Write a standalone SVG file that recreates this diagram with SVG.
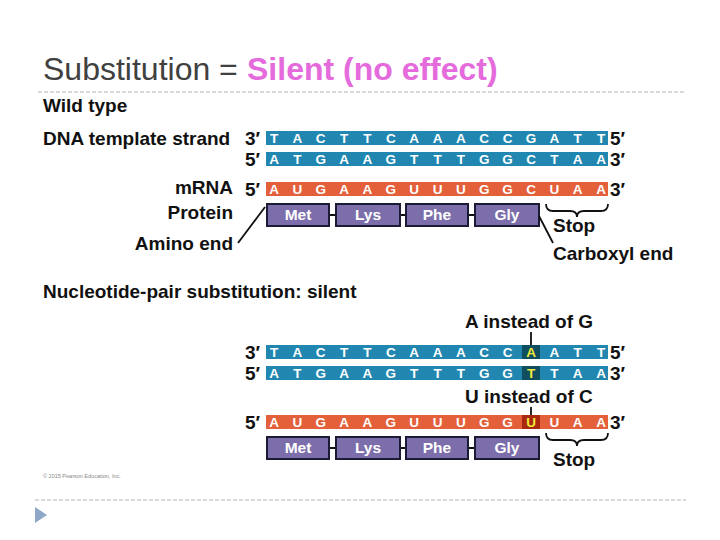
<svg xmlns="http://www.w3.org/2000/svg" width="720" height="540" viewBox="0 0 720 540">
<style>
  .lbl{font-family:"Liberation Sans",Arial,sans-serif;font-weight:bold;font-size:19px;fill:#111}
  .end{text-anchor:end}
  .base{font-family:"Liberation Sans",Arial,sans-serif;font-weight:bold;font-size:13.5px;fill:#fff;text-anchor:middle}
  .hi{fill:#f2ea3a}
  .aa{font-family:"Liberation Sans",Arial,sans-serif;font-weight:bold;font-size:15.5px;fill:#fff;text-anchor:middle}
  .dna{fill:#2187b0}
  .rna{fill:#e4603a}
  .box{fill:#7c6eaa;stroke:#1b1b35;stroke-width:2}
  .ln{stroke:#111;stroke-width:1.8;fill:none}
  .dash{stroke:#b4b4b4;stroke-width:1;stroke-dasharray:4 2;fill:none}
</style>
<rect width="720" height="540" fill="#fff"/>

<g id="title">
  <text x="43" y="80" font-family="'Liberation Sans',Arial,sans-serif" font-size="32" fill="#404040">Substitution = </text>
  <text x="247" y="80" font-family="'Liberation Sans',Arial,sans-serif" font-size="32" font-weight="bold" fill="#e56bdd">Silent (no effect)</text>
</g>
<line class="dash" x1="38" y1="92" x2="686" y2="92"/>
<line class="dash" x1="35" y1="500" x2="686" y2="500"/>
<polygon points="35,507 47,515 35,523" fill="#8fa8c8"/>

<!-- Wild type -->
<g id="wild-labels">
  <text class="lbl" x="43" y="112">Wild type</text>
  <text class="lbl" x="43" y="145">DNA template strand</text>
  <text class="lbl end" x="233" y="194">mRNA</text>
  <text class="lbl end" x="233" y="219">Protein</text>
  <text class="lbl end" x="233" y="250">Amino end</text>
  <text class="lbl" x="245" y="145">3′</text>
  <text class="lbl" x="245" y="166">5′</text>
  <text class="lbl" x="245" y="196">5′</text>
  <text class="lbl" x="610" y="145">5′</text>
  <text class="lbl" x="610" y="166">3′</text>
  <text class="lbl" x="610" y="196">3′</text>
  <text class="lbl" x="553" y="232">Stop</text>
  <text class="lbl" x="553" y="260">Carboxyl end</text>
</g>

<g id="wild-template">
  <rect class="dna" x="266" y="131" width="342" height="14"/>
  <g class="base">
    <text x="274" y="143">T</text><text x="297.4" y="143">A</text><text x="320.7" y="143">C</text><text x="344.1" y="143">T</text><text x="367.4" y="143">T</text>
    <text x="390.8" y="143">C</text><text x="414.2" y="143">A</text><text x="437.5" y="143">A</text><text x="460.9" y="143">A</text><text x="484.2" y="143">C</text>
    <text x="507.6" y="143">C</text><text x="531" y="143">G</text><text x="554.3" y="143">A</text><text x="577.7" y="143">T</text><text x="601" y="143">T</text>
  </g>
</g>
<g id="wild-coding">
  <rect class="dna" x="266" y="152" width="342" height="14"/>
  <g class="base">
    <text x="274" y="164">A</text><text x="297.4" y="164">T</text><text x="320.7" y="164">G</text><text x="344.1" y="164">A</text><text x="367.4" y="164">A</text>
    <text x="390.8" y="164">G</text><text x="414.2" y="164">T</text><text x="437.5" y="164">T</text><text x="460.9" y="164">T</text><text x="484.2" y="164">G</text>
    <text x="507.6" y="164">G</text><text x="531" y="164">C</text><text x="554.3" y="164">T</text><text x="577.7" y="164">A</text><text x="601" y="164">A</text>
  </g>
</g>
<g id="wild-mrna">
  <rect class="rna" x="266" y="182" width="342" height="14"/>
  <g class="base">
    <text x="274" y="194">A</text><text x="297.4" y="194">U</text><text x="320.7" y="194">G</text><text x="344.1" y="194">A</text><text x="367.4" y="194">A</text>
    <text x="390.8" y="194">G</text><text x="414.2" y="194">U</text><text x="437.5" y="194">U</text><text x="460.9" y="194">U</text><text x="484.2" y="194">G</text>
    <text x="507.6" y="194">G</text><text x="531" y="194">C</text><text x="554.3" y="194">U</text><text x="577.7" y="194">A</text><text x="601" y="194">A</text>
  </g>
</g>
<g id="wild-protein">
  <line class="ln" x1="329" y1="215" x2="475" y2="215" stroke-width="2.5"/>
  <rect class="box" x="267" y="204" width="62" height="22"/>
  <rect class="box" x="336" y="204" width="64" height="22"/>
  <rect class="box" x="406" y="204" width="62" height="22"/>
  <rect class="box" x="475" y="204" width="64" height="22"/>
  <text class="aa" x="298" y="220">Met</text>
  <text class="aa" x="368" y="220">Lys</text>
  <text class="aa" x="437" y="220">Phe</text>
  <text class="aa" x="507" y="220">Gly</text>
</g>
<g id="wild-connectors">
  <path class="ln" d="M546,204 q0,7 7,7 h17 q7,0 7,6 q0,-6 7,-6 h17 q7,0 7,-7"/>
  <line class="ln" x1="539" y1="216" x2="553" y2="243"/>
  <line class="ln" x1="265" y1="207" x2="238" y2="243"/>
</g>

<!-- Mutant -->
<g id="mut-labels">
  <text class="lbl" x="43" y="298">Nucleotide-pair substitution: silent</text>
  <text class="lbl" x="465" y="328">A instead of G</text>
  <text class="lbl" x="465" y="403">U instead of C</text>
  <text class="lbl" x="245" y="359">3′</text>
  <text class="lbl" x="245" y="380">5′</text>
  <text class="lbl" x="245" y="429">5′</text>
  <text class="lbl" x="610" y="359">5′</text>
  <text class="lbl" x="610" y="380">3′</text>
  <text class="lbl" x="610" y="429">3′</text>
  <text class="lbl" x="553" y="466">Stop</text>
</g>
<g id="mut-template">
  <rect class="dna" x="266" y="345" width="342" height="14"/>
  <rect x="522" y="345" width="18" height="14" fill="#0f4f5f"/>
  <g class="base">
    <text x="274" y="357">T</text><text x="297.4" y="357">A</text><text x="320.7" y="357">C</text><text x="344.1" y="357">T</text><text x="367.4" y="357">T</text>
    <text x="390.8" y="357">C</text><text x="414.2" y="357">A</text><text x="437.5" y="357">A</text><text x="460.9" y="357">A</text><text x="484.2" y="357">C</text>
    <text x="507.6" y="357">C</text><text class="hi" x="531" y="357">A</text><text x="554.3" y="357">A</text><text x="577.7" y="357">T</text><text x="601" y="357">T</text>
  </g>
</g>
<g id="mut-coding">
  <rect class="dna" x="266" y="366" width="342" height="14"/>
  <rect x="522" y="366" width="18" height="14" fill="#0f4f5f"/>
  <g class="base">
    <text x="274" y="378">A</text><text x="297.4" y="378">T</text><text x="320.7" y="378">G</text><text x="344.1" y="378">A</text><text x="367.4" y="378">A</text>
    <text x="390.8" y="378">G</text><text x="414.2" y="378">T</text><text x="437.5" y="378">T</text><text x="460.9" y="378">T</text><text x="484.2" y="378">G</text>
    <text x="507.6" y="378">G</text><text class="hi" x="531" y="378">T</text><text x="554.3" y="378">T</text><text x="577.7" y="378">A</text><text x="601" y="378">A</text>
  </g>
</g>
<g id="mut-mrna">
  <rect class="rna" x="266" y="415" width="342" height="14"/>
  <rect x="522" y="415" width="18" height="14" fill="#a8290f"/>
  <g class="base">
    <text x="274" y="427">A</text><text x="297.4" y="427">U</text><text x="320.7" y="427">G</text><text x="344.1" y="427">A</text><text x="367.4" y="427">A</text>
    <text x="390.8" y="427">G</text><text x="414.2" y="427">U</text><text x="437.5" y="427">U</text><text x="460.9" y="427">U</text><text x="484.2" y="427">G</text>
    <text x="507.6" y="427">G</text><text class="hi" x="531" y="427">U</text><text x="554.3" y="427">U</text><text x="577.7" y="427">A</text><text x="601" y="427">A</text>
  </g>
</g>
<g id="mut-protein">
  <line class="ln" x1="329" y1="448" x2="475" y2="448" stroke-width="2.5"/>
  <rect class="box" x="267" y="437" width="62" height="22"/>
  <rect class="box" x="336" y="437" width="64" height="22"/>
  <rect class="box" x="406" y="437" width="62" height="22"/>
  <rect class="box" x="475" y="437" width="64" height="22"/>
  <text class="aa" x="298" y="453">Met</text>
  <text class="aa" x="368" y="453">Lys</text>
  <text class="aa" x="437" y="453">Phe</text>
  <text class="aa" x="507" y="453">Gly</text>
</g>
<g id="mut-connectors">
  <line class="ln" x1="531" y1="332" x2="531" y2="345"/>
  <line class="ln" x1="531" y1="407" x2="531" y2="415"/>
  <path class="ln" d="M546,433 q0,7 7,7 h17 q7,0 7,6 q0,-6 7,-6 h17 q7,0 7,-7"/>
</g>

<text x="43" y="478" font-family="'Liberation Sans',Arial,sans-serif" font-size="5.5" fill="#888">© 2015 Pearson Education, Inc.</text>
</svg>
